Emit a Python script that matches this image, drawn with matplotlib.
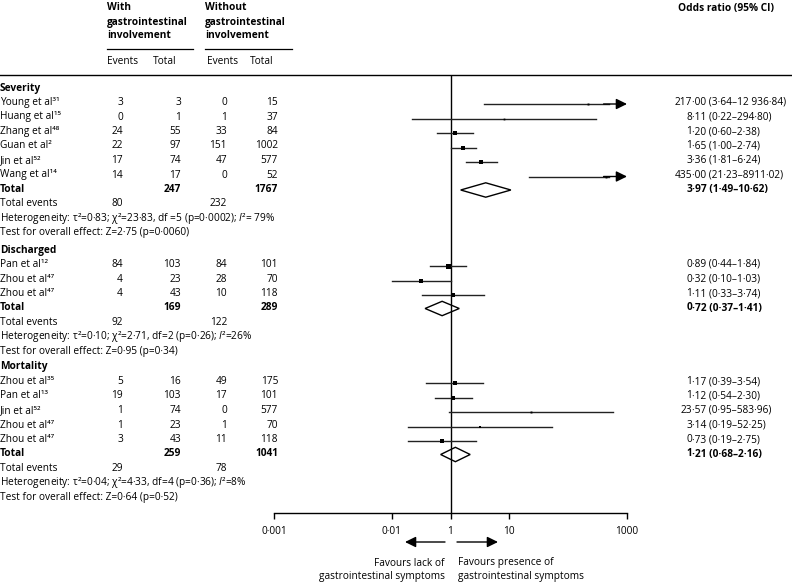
import matplotlib
matplotlib.use("Agg")
import matplotlib.pyplot as plt
from matplotlib.patches import Polygon

plt.rcParams['font.family'] = ['Open Sans', 'DejaVu Sans']
plt.rcParams['mathtext.fontset'] = 'custom'
plt.rcParams['mathtext.it'] = 'Open Sans:italic'
FS = 7.3

# ---------------- data ----------------
groups = ["Severity", "Discharged", "Mortality"]

sev_studies = ["Young et al³¹", "Huang et al¹⁵", "Zhang et al⁴⁸", "Guan et al²", "Jin et al⁵²", "Wang et al¹⁴"]
sev_ev_with = [3, 0, 24, 22, 17, 14]
sev_tot_with = [3, 1, 55, 97, 74, 17]
sev_ev_without = [0, 1, 33, 151, 47, 0]
sev_tot_without = [15, 37, 84, 1002, 577, 52]
sev_or = [217.00, 8.11, 1.20, 1.65, 3.36, 435.00]
sev_lo = [3.64, 0.22, 0.60, 1.00, 1.81, 21.23]
sev_hi = [12936.84, 294.80, 2.38, 2.74, 6.24, 8911.02]
sev_ci_text = ["217·00 (3·64–12 936·84)", "8·11 (0·22–294·80)", "1·20 (0·60–2·38)",
               "1·65 (1·00–2·74)", "3·36 (1·81–6·24)", "435·00 (21·23–8911·02)"]
sev_weight = [6, 4, 28, 30, 28, 5]
sev_total = (247, 1767, 80, 232)
sev_pooled = (3.97, 1.49, 10.62)
sev_pooled_text = "3·97 (1·49–10·62)"
sev_het = "Heterogeneity: τ²=0·83; χ²=23·83, df =5 (p=0·0002); $\\mathit{I}$²= 79%"
sev_test = "Test for overall effect: Z=2·75 (p=0·0060)"

dis_studies = ["Pan et al¹²", "Zhou et al⁴⁷", "Zhou et al⁴⁷"]
dis_ev_with = [84, 4, 4]
dis_tot_with = [103, 23, 43]
dis_ev_without = [84, 28, 10]
dis_tot_without = [101, 70, 118]
dis_or = [0.89, 0.32, 1.11]
dis_lo = [0.44, 0.10, 0.33]
dis_hi = [1.84, 1.03, 3.74]
dis_ci_text = ["0·89 (0·44–1·84)", "0·32 (0·10–1·03)", "1·11 (0·33–3·74)"]
dis_weight = [40, 26, 28]
dis_total = (169, 289, 92, 122)
dis_pooled = (0.72, 0.37, 1.41)
dis_pooled_text = "0·72 (0·37–1·41)"
dis_het = "Heterogeneity: τ²=0·10; χ²=2·71, df=2 (p=0·26); $\\mathit{I}$²=26%"
dis_test = "Test for overall effect: Z=0·95 (p=0·34)"

mor_studies = ["Zhou et al³⁵", "Pan et al¹³", "Jin et al⁵²", "Zhou et al⁴⁷", "Zhou et al⁴⁷"]
mor_ev_with = [5, 19, 1, 1, 3]
mor_tot_with = [16, 103, 74, 23, 43]
mor_ev_without = [49, 17, 0, 1, 11]
mor_tot_without = [175, 101, 577, 70, 118]
mor_or = [1.17, 1.12, 23.57, 3.14, 0.73]
mor_lo = [0.39, 0.54, 0.95, 0.19, 0.19]
mor_hi = [3.54, 2.30, 583.96, 52.25, 2.75]
mor_ci_text = ["1·17 (0·39–3·54)", "1·12 (0·54–2·30)", "23·57 (0·95–583·96)",
               "3·14 (0·19–52·25)", "0·73 (0·19–2·75)"]
mor_weight = [28, 34, 6, 10, 20]
mor_total = (259, 1041, 29, 78)
mor_pooled = (1.21, 0.68, 2.16)
mor_pooled_text = "1·21 (0·68–2·16)"
mor_het = "Heterogeneity: τ²=0·04; χ²=4·33, df=4 (p=0·36); $\\mathit{I}$²=8%"
mor_test = "Test for overall effect: Z=0·64 (p=0·52)"

tick_values = [0.001, 0.1, 1, 10, 1000]
tick_labels = ["0·001", "0·01", "1", "10", "1000"]

# ---------------- layout ----------------
W, H = 792, 584
fig = plt.figure(figsize=(7.92, 5.84), dpi=100)
tx = fig.add_axes([0, 0, 1, 1])
tx.set_xlim(0, W)
tx.set_ylim(H, 0)
tx.axis('off')

XL, XR = 274, 627
fx = fig.add_axes([XL / W, 0, (XR - XL) / W, 1])
fx.set_xscale('log')
fx.set_xlim(0.001, 1000)
fx.set_ylim(H, 0)
fx.patch.set_alpha(0)
for s in ['top', 'left', 'right']:
    fx.spines[s].set_visible(False)
fx.spines['bottom'].set_position(('data', 513))
fx.spines['bottom'].set_linewidth(1.0)
fx.set_yticks([])
fx.set_xticks(tick_values)
fx.set_xticklabels(tick_labels, fontsize=FS)
fx.xaxis.set_minor_locator(matplotlib.ticker.NullLocator())
fx.tick_params(axis='x', direction='out', length=4, width=1, pad=5)

C_EW, C_TW, C_EO, C_TO = 123, 181, 227, 278
XD = 692  # decimal alignment for OR text

def txt(x, y, s, ha='left', bold=False, size=FS):
    tx.text(x, y, s, ha=ha, va='center', fontsize=size,
            fontweight='bold' if bold else 'normal')

def or_text(y, s, bold=False):
    i = s.index('·')
    txt(XD, y, s[:i], ha='right', bold=bold)
    txt(XD, y, s[i:], ha='left', bold=bold)

# header
txt(107, 8, "With", bold=True)
txt(107, 22, "gastrointestinal", bold=True)
txt(107, 36, "involvement", bold=True)
txt(205, 8, "Without", bold=True)
txt(205, 22, "gastrointestinal", bold=True)
txt(205, 36, "involvement", bold=True)
tx.plot([107, 193], [48.5, 48.5], color='black', lw=0.9)
tx.plot([205, 292], [48.5, 48.5], color='black', lw=0.9)
txt(107, 62, "Events")
txt(153, 62, "Total")
txt(207, 62, "Events")
txt(250, 62, "Total")
txt(678, 8, "Odds ratio (95% CI)", bold=True)
tx.plot([0, W], [75, 75], color='black', lw=1.0)

fx.plot([1, 1], [75, 513], color='black', lw=1.0, solid_capstyle='butt')

AR = dict(arrowstyle='-|>,head_length=0.65,head_width=0.32',
          color='black', lw=1.0, shrinkA=0, shrinkB=0)

def diamond(y, est, lo, hi, h=7.2):
    fx.add_patch(Polygon([(lo, y), (est, y - h), (hi, y), (est, y + h)],
                         closed=True, fill=False, edgecolor='black', lw=1.0))

def section(y0, name, studies, ew, tw, eo, to, orv, lo, hi, cit, wts,
            total, pooled, pooled_text, het, test, dy=14.5):
    txt(0, y0, name, bold=True)
    ys = [y0 + dy * (i + 1) for i in range(len(studies))]
    for i, y in enumerate(ys):
        txt(0, y, studies[i])
        txt(C_EW, y, str(ew[i]), ha='right')
        txt(C_TW, y, str(tw[i]), ha='right')
        txt(C_EO, y, str(eo[i]), ha='right')
        txt(C_TO, y, str(to[i]), ha='right')
        or_text(y, cit[i])
        ym = y + 1.5
        if hi[i] > 1000:
            fx.plot([lo[i], 500], [ym, ym], color='#222222', lw=1.0)
            fx.annotate('', xy=(1000, ym), xytext=(400, ym), arrowprops=AR)
        else:
            fx.plot([lo[i], hi[i]], [ym, ym], color='#222222', lw=1.0)
        ms = 1.0 + 0.065 * wts[i]
        fx.plot([orv[i]], [ym], marker='s', ms=ms, color='black', mec='black', mew=0)
    yt = ys[-1] + dy
    txt(0, yt, "Total", bold=True)
    txt(C_TW, yt, str(total[0]), ha='right', bold=True)
    txt(C_TO, yt, str(total[1]), ha='right', bold=True)
    or_text(yt, pooled_text, bold=True)
    diamond(yt + 0.5, *pooled)
    ye = yt + dy
    txt(0, ye, "Total events")
    txt(C_EW, ye, str(total[2]), ha='right')
    txt(C_EO, ye, str(total[3]), ha='right')
    txt(0, ye + dy, het)
    txt(0, ye + 2 * dy, test)

section(88, groups[0], sev_studies, sev_ev_with, sev_tot_with, sev_ev_without, sev_tot_without,
        sev_or, sev_lo, sev_hi, sev_ci_text, sev_weight, sev_total, sev_pooled,
        sev_pooled_text, sev_het, sev_test)
section(250, groups[1], dis_studies, dis_ev_with, dis_tot_with, dis_ev_without, dis_tot_without,
        dis_or, dis_lo, dis_hi, dis_ci_text, dis_weight, dis_total, dis_pooled,
        dis_pooled_text, dis_het, dis_test)
section(367, groups[2], mor_studies, mor_ev_with, mor_tot_with, mor_ev_without, mor_tot_without,
        mor_or, mor_lo, mor_hi, mor_ci_text, mor_weight, mor_total, mor_pooled,
        mor_pooled_text, mor_het, mor_test)

# favours arrows
tx.annotate('', xy=(405, 542), xytext=(445, 542), arrowprops=AR)
tx.annotate('', xy=(498, 542), xytext=(457, 542), arrowprops=AR)
txt(445, 563, "Favours lack of", ha='right')
txt(445, 577, "gastrointestinal symptoms", ha='right')
txt(458, 563, "Favours presence of")
txt(458, 577, "gastrointestinal symptoms")

fig.savefig("out.png", dpi=100)
